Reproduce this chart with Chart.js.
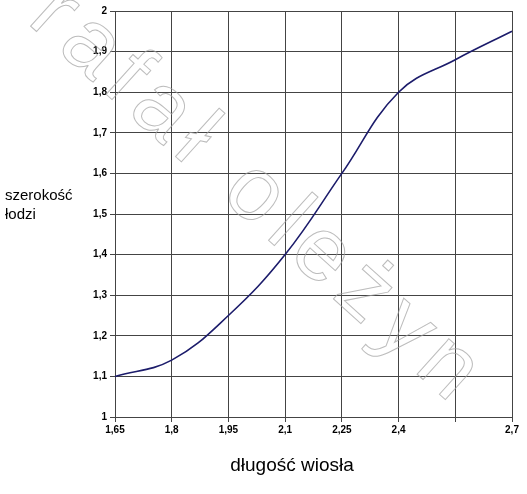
<!DOCTYPE html>
<html>
<head>
<meta charset="utf-8">
<script src="https://cdn.jsdelivr.net/npm/chart.js@4"></script>
<style>
  html, body { margin: 0; padding: 0; background: #fff; }
  #wrap { width: 527px; height: 494px; }
</style>
</head>
<body>
<div id="wrap"><canvas id="chart" width="527" height="494"></canvas></div>
<script>
const oarLengths = ["1,65", "1,8", "1,95", "2,1", "2,25", "2,4", "", "2,7"];
const boatWidths = [1.1, 1.14, 1.25, 1.4, 1.6, 1.8, 1.88, 1.95];
const yTitleLines = ["szerokość", "łodzi"];
const xTitle = "długość wiosła";
const watermark = "rafał oleżyn";

const decorations = {
  id: "decorations",
  afterDraw: (chart) => {
    const ctx = chart.ctx;
    ctx.save();
    ctx.fillStyle = "#000";
    ctx.font = "15px 'Liberation Sans', Arial, sans-serif";
    ctx.textBaseline = "alphabetic";
    ctx.fillText(yTitleLines[0], 5, 200);
    ctx.fillText(yTitleLines[1], 5, 219);
    ctx.font = "19px 'Liberation Sans', Arial, sans-serif";
    ctx.textAlign = "center";
    ctx.fillText(xTitle, 292, 471);

    ctx.translate(26, 22);
    ctx.rotate((42 * Math.PI) / 180);
    ctx.textAlign = "left";
    ctx.font = "90px 'Liberation Sans', Arial, sans-serif";
    ctx.letterSpacing = "10px";
    ctx.strokeStyle = "rgba(160,160,160,0.7)";
    ctx.lineWidth = 1;
    ctx.strokeText(watermark, 0, 0);
    ctx.restore();
  },
};

new Chart(document.getElementById("chart"), {
  type: "line",
  data: {
    labels: oarLengths,
    datasets: [
      {
        data: boatWidths,
        borderColor: "#1c1c6b",
        borderWidth: 1.6,
        pointRadius: 0,
        tension: 0.4,
        fill: false,
      },
    ],
  },
  options: {
    responsive: false,
    animation: false,
    layout: { padding: { top: 11, right: 15, left: 0, bottom: 0 } },
    plugins: { legend: { display: false }, tooltip: { enabled: false } },
    scales: {
      x: {
        offset: false,
        grid: { color: "#444", lineWidth: 1, drawTicks: true, tickLength: 5 },
        border: { color: "#444" },
        ticks: {
          color: "#000",
          font: { size: 10, weight: "bold", family: "'Liberation Sans', Arial" },
          maxRotation: 0,
          autoSkip: false,
          padding: 2,
        },
        afterFit: (scale) => { scale.height = 77; },
      },
      y: {
        min: 1,
        max: 2,
        grid: { color: "#444", lineWidth: 1, tickLength: 5 },
        border: { color: "#444" },
        ticks: {
          stepSize: 0.1,
          color: "#000",
          font: { size: 10, weight: "bold", family: "'Liberation Sans', Arial" },
          padding: 3,
          callback: (v) => (Math.round(v * 10) / 10).toString().replace(".", ","),
        },
        afterFit: (scale) => { scale.width = 115; },
      },
    },
  },
  plugins: [decorations],
});
</script>
</body>
</html>
